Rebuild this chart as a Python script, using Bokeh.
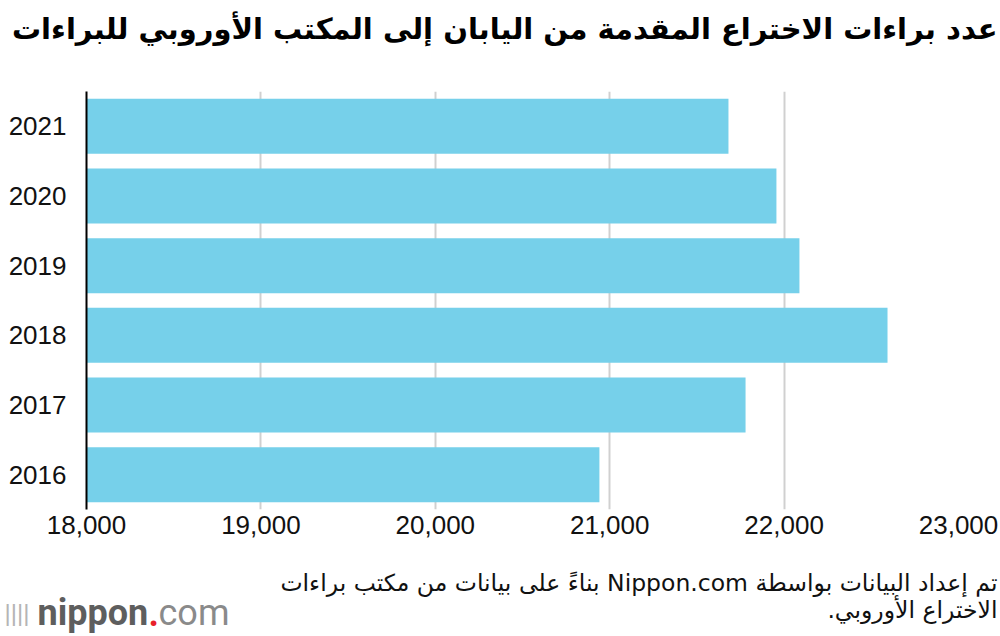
from bokeh.plotting import figure
from bokeh.layouts import column
from bokeh.models import (FactorRange, Range1d, FixedTicker, NumeralTickFormatter, Label)
from bokeh.embed import file_html
from bokeh.resources import INLINE

# ---- data ----
years = ["2016", "2017", "2018", "2019", "2020", "2021"]
patents = [20941, 21779, 22593, 22088, 21956, 21681]
x_ticks = [18000, 19000, 20000, 21000, 22000, 23000]

title_text = "عدد براءات الاختراع المقدمة من اليابان إلى المكتب الأوروبي للبراءات"
source_line1 = "تم إعداد البيانات بواسطة Nippon.com بناءً على بيانات من مكتب براءات"
source_line2 = "الاختراع الأوروبي."

RLE, PDF, RLM = "\u202b", "\u202c", "\u200f"
W = 1000


def blank_fig(height):
    f = figure(width=W, height=height, output_backend="svg", toolbar_location=None,
               title=None, x_axis_type=None, y_axis_type=None,
               x_range=Range1d(0, 1), y_range=Range1d(0, 1),
               min_border=0)
    try:
        f.frame_align = False
    except AttributeError:
        pass
    f.outline_line_color = None
    f.background_fill_color = "white"
    f.border_fill_color = "white"
    return f


# ---- title strip ----
H_TOP = 70
ft = blank_fig(H_TOP)
ft.add_layout(Label(x=997, y=H_TOP - 28, x_units="screen", y_units="screen",
                    text=RLE + title_text + PDF, text_align="right", text_baseline="middle",
                    text_font="DejaVu Sans", text_font_style="bold", text_font_size="29px",
                    text_color="black"))

# ---- main chart ----
p = figure(width=W, height=480, output_backend="svg", toolbar_location=None, title=None,
           y_range=FactorRange(*years, range_padding=0),
           x_range=Range1d(x_ticks[0], x_ticks[-1]),
           min_border_left=86, min_border_right=42, min_border_top=21, min_border_bottom=41)

p.hbar(y=years, right=patents, left=x_ticks[0], height=0.79,
       fill_color="#76d0ea", line_color=None)

p.outline_line_color = None
p.background_fill_color = "white"
p.border_fill_color = "white"

p.ygrid.grid_line_color = None
p.xgrid.grid_line_color = "#d0d0d0"
p.xgrid.grid_line_width = 2
p.xgrid.ticker = FixedTicker(ticks=x_ticks)

p.xaxis.ticker = FixedTicker(ticks=x_ticks)
p.xaxis.formatter = NumeralTickFormatter(format="0,0")
p.xaxis.axis_line_color = None
p.xaxis.major_tick_line_color = None
p.xaxis.minor_tick_line_color = None
p.xaxis.major_tick_out = 0
p.xaxis.major_tick_in = 0
p.xaxis.minor_tick_out = 0
p.xaxis.major_label_standoff = 6
p.xaxis.major_label_text_font = "Liberation Sans"
p.xaxis.major_label_text_font_size = "26px"
p.xaxis.major_label_text_color = "#111111"

p.yaxis.axis_line_color = "black"
p.yaxis.axis_line_width = 2
p.yaxis.major_tick_line_color = None
p.yaxis.minor_tick_line_color = None
p.yaxis.major_tick_out = 0
p.yaxis.major_tick_in = 0
p.yaxis.minor_tick_out = 0
p.yaxis.major_label_standoff = 20
p.yaxis.major_label_text_font = "Liberation Sans"
p.yaxis.major_label_text_font_size = "26px"
p.yaxis.major_label_text_color = "#111111"

# ---- footer strip ----
H_BOT = 86
fb = blank_fig(H_BOT)
fb.add_layout(Label(x=997, y=H_BOT - 32, x_units="screen", y_units="screen",
                    text=RLE + source_line1 + PDF, text_align="right", text_baseline="middle",
                    text_font="DejaVu Sans", text_font_size="23.5px", text_color="#111111"))
fb.add_layout(Label(x=997, y=H_BOT - 59, x_units="screen", y_units="screen",
                    text=RLE + source_line2 + RLM + PDF, text_align="right", text_baseline="middle",
                    text_font="DejaVu Sans", text_font_size="23.5px", text_color="#111111"))

mid = H_BOT - 62
fb.add_layout(Label(x=4, y=mid, x_units="screen", y_units="screen",
                    text="||||", text_align="left", text_baseline="middle",
                    text_font="Liberation Sans", text_font_size="24px", text_color="#b5b5b5"))
fb.add_layout(Label(x=37, y=mid, x_units="screen", y_units="screen",
                    text="nippon", text_align="left", text_baseline="middle",
                    text_font="Roboto", text_font_style="bold", text_font_size="36px",
                    text_color="#5e5e5e"))
fb.add_layout(Label(x=148, y=mid, x_units="screen", y_units="screen",
                    text=".", text_align="left", text_baseline="middle",
                    text_font="Roboto", text_font_style="bold", text_font_size="36px",
                    text_color="#e8202a"))
fb.add_layout(Label(x=158, y=mid, x_units="screen", y_units="screen",
                    text="com", text_align="left", text_baseline="middle",
                    text_font="Roboto", text_font_size="36px",
                    text_color="#8a8a8a"))

layout = column(ft, p, fb, spacing=0)
open("out.html", "w").write(file_html(layout, INLINE))
